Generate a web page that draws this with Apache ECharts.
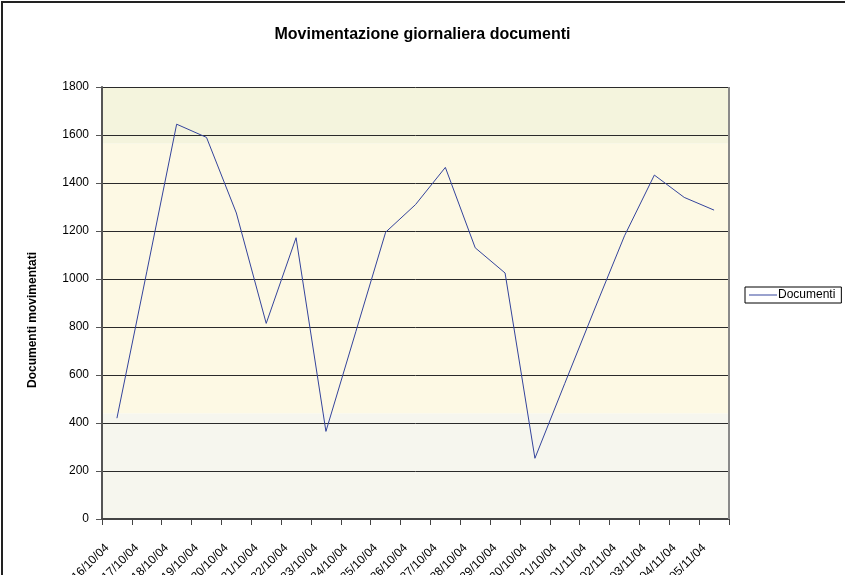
<!DOCTYPE html>
<html>
<head>
<meta charset="utf-8">
<script src="https://cdn.jsdelivr.net/npm/echarts@6/dist/echarts.min.js"></script>
<style>
  html, body { margin: 0; padding: 0; background: #ffffff; }
  #chart { width: 845px; height: 575px; }
</style>
</head>
<body>
<div id="chart"></div>
<script>
// Daily document movements, 16/10/04 – 05/11/04
const dates = [
  '16/10/04', '17/10/04', '18/10/04', '19/10/04', '20/10/04', '21/10/04', '22/10/04',
  '23/10/04', '24/10/04', '25/10/04', '26/10/04', '27/10/04', '28/10/04', '29/10/04',
  '30/10/04', '31/10/04', '01/11/04', '02/11/04', '03/11/04', '04/11/04', '05/11/04'
];
const documenti = [
  420, 1030, 1645, 1590, 1275, 815, 1172,
  365, 780, 1195, 1310, 1465, 1130, 1025,
  253, 565, 875, 1180, 1433, 1340, 1287
];
const yTicks = [0, 200, 400, 600, 800, 1000, 1200, 1400, 1600, 1800];
// Background bands of the plot area (value ranges)
const bandLow = [0, 441];
const bandMid = [441, 1565];
const bandHigh = [1565, 1800];

const font = '"Liberation Sans", Arial, sans-serif';
const chart = echarts.init(document.getElementById('chart'), null, { renderer: 'canvas' });

chart.setOption({
  animation: false,
  backgroundColor: '#ffffff',
  title: {
    text: 'Movimentazione giornaliera documenti',
    left: 'center',
    top: 22,
    textStyle: { fontFamily: font, fontSize: 16, fontWeight: 'bold', color: '#000' }
  },
  legend: {
    data: ['Documenti'],
    left: 745,
    top: 287,
    orient: 'vertical',
    backgroundColor: '#ffffff',
    borderColor: '#000000',
    borderWidth: 1,
    borderRadius: 0,
    padding: [2, 6, 2, 4],
    itemWidth: 28,
    itemHeight: 1,
    icon: 'rect',
    itemGap: 0,
    textStyle: { fontFamily: font, fontSize: 12, color: '#000', padding: [0, 0, 0, -4] }
  },
  grid: {
    left: 102, right: 116, top: 87, bottom: 56,
    containLabel: false,
    outerBoundsMode: 'none'
  },
  xAxis: {
    type: 'category',
    data: dates,
    boundaryGap: true,
    z: 1,
    axisLine: { show: true, lineStyle: { color: '#444', width: 2 } },
    axisTick: { show: true, length: 6, inside: false, lineStyle: { color: '#444', width: 1 } },
    axisLabel: {
      interval: 0,
      rotate: 45,
      margin: 17,
      padding: [0, 14, 0, 0],
      fontFamily: font,
      fontSize: 12,
      color: '#000'
    },
    splitLine: { show: false }
  },
  yAxis: {
    type: 'value',
    min: yTicks[0],
    max: yTicks[yTicks.length - 1],
    interval: 200,
    z: 1,
    axisLine: { show: true, lineStyle: { color: '#555', width: 2 } },
    axisTick: { show: true, length: 6, inside: false, lineStyle: { color: '#555', width: 1 } },
    axisLabel: {
      margin: 13,
      fontFamily: font,
      fontSize: 12,
      color: '#000',
      formatter: (v) => String(v)
    },
    splitLine: { show: true, lineStyle: { color: '#2a2a2a', width: 1 } }
  },
  graphic: [
    {
      type: 'rect',
      shape: { x: 2, y: 2, width: 880, height: 620 },
      style: { fill: 'none', stroke: '#222', lineWidth: 2 },
      silent: true,
      z: 100
    },
    {
      type: 'rect',
      shape: { x: 729, y: 87, width: 0, height: 432 },
      style: { fill: 'none', stroke: '#8a8a8a', lineWidth: 2 },
      silent: true,
      z: 10
    },
    {
      type: 'text',
      x: 33,
      y: 320,
      rotation: Math.PI / 2,
      style: {
        text: 'Documenti movimentati',
        fontFamily: font,
        fontSize: 12,
        fontWeight: 'bold',
        fill: '#000',
        align: 'center',
        verticalAlign: 'middle'
      }
    }
  ],
  series: [
    {
      // carries only the background bands, drawn beneath the grid lines
      name: 'bands',
      type: 'line',
      data: [],
      z: -1,
      silent: true,
      markArea: {
        silent: true,
        z: -1,
        label: { show: false },
        data: [
          [{ yAxis: bandLow[0], itemStyle: { color: '#F6F6EE' } }, { yAxis: bandLow[1] }],
          [{ yAxis: bandMid[0], itemStyle: { color: '#FDF9E4' } }, { yAxis: bandMid[1] }],
          [{ yAxis: bandHigh[0], itemStyle: { color: '#F4F4DD' } }, { yAxis: bandHigh[1] }]
        ]
      }
    },
    {
      name: 'Documenti',
      type: 'line',
      data: documenti,
      symbol: 'none',
      showSymbol: false,
      lineStyle: { color: '#34449C', width: 1 },
      itemStyle: { color: '#34449C' },
      z: 5
    }
  ]
});
</script>
</body>
</html>
